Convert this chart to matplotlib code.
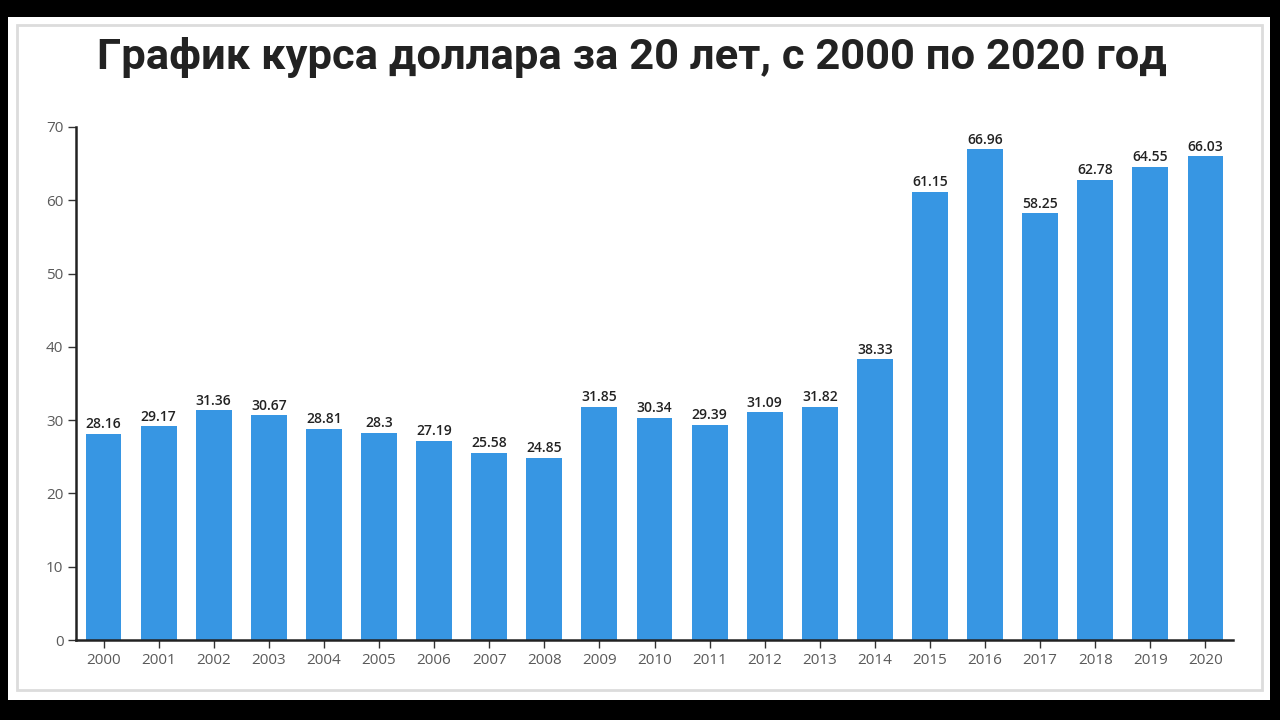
import matplotlib.pyplot as plt
from matplotlib.patches import Rectangle

years = [str(y) for y in range(2000, 2021)]
rates = [28.16, 29.17, 31.36, 30.67, 28.81, 28.3, 27.19, 25.58, 24.85, 31.85,
         30.34, 29.39, 31.09, 31.82, 38.33, 61.15, 66.96, 58.25, 62.78, 64.55, 66.03]
labels = ["28.16", "29.17", "31.36", "30.67", "28.81", "28.3", "27.19", "25.58", "24.85", "31.85",
          "30.34", "29.39", "31.09", "31.82", "38.33", "61.15", "66.96", "58.25", "62.78", "64.55", "66.03"]
yticks = [0, 10, 20, 30, 40, 50, 60, 70]

W, H = 1280, 720
fig = plt.figure(figsize=(W / 100, H / 100), dpi=100, facecolor="black")

# white card with thin grey border, kept behind the axes
fig.patches.append(Rectangle((8 / W, 1 - 700 / H), (1270 - 8) / W, (700 - 17) / H,
                             transform=fig.transFigure, facecolor="white", edgecolor="none", zorder=-2))
fig.patches.append(Rectangle((17 / W, 1 - 690 / H), (1262 - 17) / W, (690 - 25) / H,
                             transform=fig.transFigure, facecolor="none", edgecolor="#dcdcdc",
                             linewidth=2, zorder=-1))

fig.text(632 / W, 1 - 58 / H, "График курса доллара за 20 лет, с 2000 по 2020 год",
         ha="center", va="center", fontsize=31.3, fontweight="bold", color="#222222",
         family=["Roboto", "DejaVu Sans"])

ax = fig.add_axes([76 / W, 1 - 640 / H, (1233 - 76) / W, (640 - 127) / H])
ax.set_facecolor("white")
x = range(len(years))
bars = ax.bar(x, rates, width=0.65, color="#3796e3", zorder=2)

for b, lab in zip(bars, labels):
    ax.text(b.get_x() + b.get_width() / 2, b.get_height() + 0.35, lab,
            ha="center", va="bottom", fontsize=10, fontweight="semibold", color="#222222",
            family=["Open Sans", "DejaVu Sans"])

ax.set_xlim(-0.5, 20.5)
ax.set_ylim(0, 70)
ax.set_xticks(list(x))
ax.set_xticklabels(years)
ax.set_yticks(yticks)

for s in ["top", "right"]:
    ax.spines[s].set_visible(False)
for s in ["left", "bottom"]:
    ax.spines[s].set_linewidth(1.8)
    ax.spines[s].set_color("#222222")

ax.tick_params(axis="both", colors="#333333", length=6, width=1, labelsize=11,
               labelcolor="#5a5a5a", pad=3)
for t in ax.get_xticklabels() + ax.get_yticklabels():
    t.set_family(["Open Sans", "DejaVu Sans"])

fig.savefig("out.png", dpi=100, facecolor="black")
